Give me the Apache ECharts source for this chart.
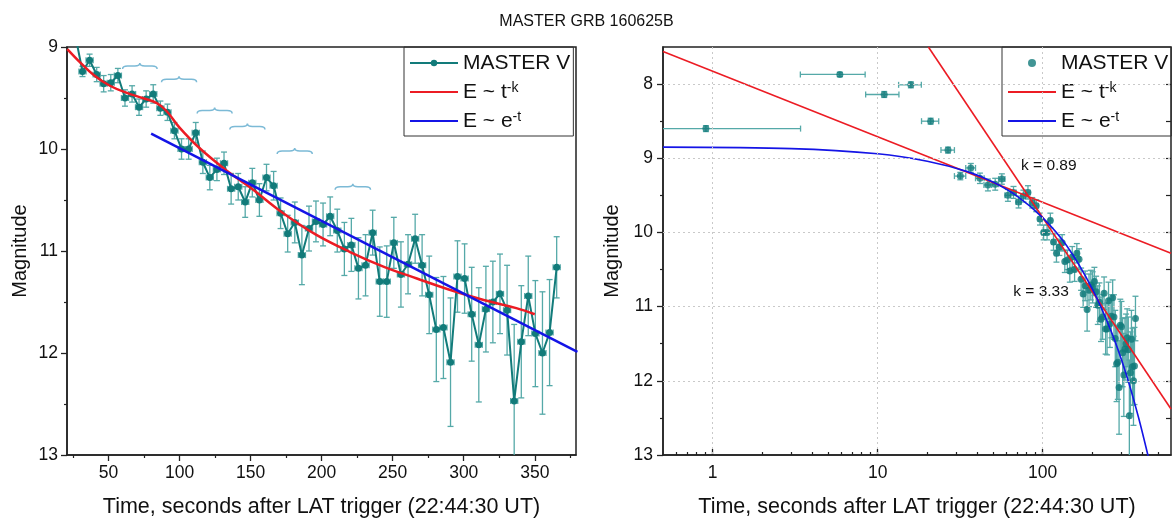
<!DOCTYPE html>
<html><head><meta charset="utf-8">
<script src="https://cdn.jsdelivr.net/npm/echarts@6/dist/echarts.min.js"></script>
<style>html,body{margin:0;padding:0;background:#fff}#c{width:1173px;height:523px}</style>
</head><body><div id="c"></div>
<script>
// ---- data ----
const timeSec = [26.7,31.7,36.7,41.7,46.6,51.6,56.6,61.6,66.6,71.5,76.5,81.5,86.5,91.5,96.4,101.4,106.4,111.4,116.4,121.3,126.3,131.3,136.3,141.3,146.2,151.2,156.2,161.2,166.2,171.1,176.1,181.1,186.1,191.1,196.0,201.0,206.0,211.0,216.0,220.9,225.9,230.9,235.9,240.9,245.8,250.8,255.8,260.8,265.8,270.7,275.7,280.7,285.7,290.7,295.6,300.6,305.6,310.6,315.6,320.5,325.5,330.5,335.5,340.5,345.4,350.4,355.4,360.4,365.4];
const magV = [8.89,9.24,9.13,9.27,9.36,9.35,9.28,9.50,9.46,9.59,9.51,9.46,9.60,9.64,9.82,10.00,10.00,9.84,10.13,10.28,10.20,10.14,10.39,10.37,10.52,10.33,10.50,10.28,10.36,10.63,10.83,10.72,11.04,10.78,10.71,10.74,10.66,10.80,10.98,10.94,11.17,11.14,10.82,11.30,11.30,10.92,11.23,11.13,10.88,11.14,11.43,11.77,11.75,12.09,11.25,11.27,11.62,11.92,11.57,11.50,11.42,11.58,12.47,11.89,11.44,11.81,12.00,11.80,11.16];
const magErr = [0.04,0.05,0.06,0.07,0.08,0.08,0.07,0.08,0.08,0.08,0.08,0.09,0.07,0.08,0.08,0.10,0.10,0.10,0.11,0.12,0.11,0.11,0.15,0.13,0.15,0.14,0.16,0.13,0.14,0.15,0.18,0.20,0.29,0.22,0.20,0.21,0.19,0.21,0.26,0.26,0.30,0.30,0.22,0.34,0.35,0.25,0.32,0.29,0.24,0.30,0.38,0.51,0.50,0.63,0.35,0.34,0.46,0.56,0.42,0.40,0.39,0.44,0.75,0.55,0.39,0.52,0.60,0.52,0.30];
const earlyTime = [0.91,5.9,10.96,15.9,20.95];
const earlyMag = [8.60,7.87,8.14,8.01,8.50];
const earlyErr = [0.04,0.03,0.04,0.04,0.04];
const timeErr = 2.5;

const powerFitLeft = [[21,9.02],[30,9.15],[40,9.28],[51,9.38],[63,9.45],[74,9.50],[84,9.55],[91,9.63],[100,9.79],[114,9.99],[133,10.21],[150,10.38],[173,10.63],[196,10.84],[220,11.01],[243,11.15],[267,11.27],[290,11.38],[314,11.48],[337,11.56],[350,11.62]];
const expFitLeft = [[80,9.85],[380,11.99]];
const powerFitRightA = [[0.5,7.56],[600,10.28]];
const powerFitRightB = [[20.3,7.5],[600,12.38]];
const expFitRight = [[0.5,8.85],[3,8.87],[10,8.94],[20,9.04],[35,9.18],[50,9.32],[70,9.51],[100,9.80],[140,10.18],[200,10.76],[260,11.33],[320,11.90],[380,12.48],[440,13.05]];
const braces = [[59.9,84.2,9.156],[87.3,112.0,9.286],[112.4,137.0,9.594],[135.4,160.1,9.75],[168.7,193.4,9.99],[209.5,234.4,10.34]];
const notes = [[109,9.10,'k = 0.89'],[97.8,10.80,'k = 3.33']];

const leftXTicks = [50,100,150,200,250,300,350];
const leftXMinor = [25,75,125,175,225,275,325,375];
const rightXTicks = [1,10,100];
const rightXMinor = [0.6,0.7,0.8,0.9,2,3,4,5,6,7,8,9,20,30,40,50,60,70,80,90,200,300,400,500];
const rightYTicks = [8,9,10,11,12,13];
const rightYMinor = [8.5,9.5,10.5,11.5,12.5];
const rightYRight = [8,8.5,9,9.5,10,10.5,11,11.5,12,12.5];

// ---- build ----
const FONT = 'Liberation Sans, Arial, sans-serif';
const TEAL = '#127b7a', ERRC = '#55a9a8';
const mainPts = timeSec.map((t,i)=>[t, magV[i], magErr[i], timeErr]);
const rightPts = earlyTime.map((t,i)=>[t, earlyMag[i], earlyErr[i], timeErr]).concat(mainPts);

function errRender(params, api){
  const x = api.value(0), y = api.value(1), ye = api.value(2), xe = api.value(3);
  const c = api.coord([x,y]);
  const top = api.coord([x, y-ye]), bot = api.coord([x, y+ye]);
  const left = (x-xe) > 0 ? api.coord([x-xe, y]) : [params.coordSys.x - 30, c[1]];
  const right = api.coord([x+xe, y]);
  const cap = 3;
  const st = {stroke: ERRC, lineWidth: 1.3, fill: null};
  const L = (x1,y1,x2,y2)=>({type:'line', shape:{x1,y1,x2,y2}, style:st});
  return {type:'group', children:[
    L(c[0],top[1],c[0],bot[1]), L(c[0]-cap,top[1],c[0]+cap,top[1]), L(c[0]-cap,bot[1],c[0]+cap,bot[1]),
    L(left[0],c[1],right[0],c[1]), L(left[0],c[1]-cap,left[0],c[1]+cap), L(right[0],c[1]-cap,right[0],c[1]+cap)
  ]};
}
function braceRender(params, api){
  const a = api.coord([api.value(0), api.value(2)]);
  const b = api.coord([api.value(1), api.value(2)]);
  const xl=a[0], xr=b[0], yt=a[1], xm=(xl+xr)/2, ym=yt+3, yb=yt+6;
  const d = `M${xl} ${yb} Q${xl} ${ym} ${xl+5} ${ym} L${xm-5} ${ym} Q${xm} ${ym} ${xm} ${yt} Q${xm} ${ym} ${xm+5} ${ym} L${xr-5} ${ym} Q${xr} ${ym} ${xr} ${yb}`;
  return {type:'path', shape:{pathData:d}, style:{stroke:'#7cbad6', lineWidth:1.5, fill:null}};
}
function noteRender(params, api){
  const p = api.coord([api.value(0), api.value(1)]);
  return {type:'text', x:p[0], y:p[1], style:{text: notes[params.dataIndex][2], font:'15.5px '+FONT, fill:'#111', align:'center', verticalAlign:'middle'}};
}
const legendNames = {'MASTER V':'MASTER V','fitPow':'E ~ t{sup|-k}','fitExp':'E ~ e{sup|-t}'};
const legendBase = {
  orient:'vertical', top:47, itemWidth:48, itemHeight:8, itemGap:7, padding:[5,3,4,5],
  borderColor:'#333', borderWidth:1, selectedMode:false,
  formatter: n => legendNames[n.replace('R:','')],
  textStyle:{fontSize:21, fontFamily:FONT, color:'#111', lineHeight:22,
    rich:{sup:{fontSize:14, fontFamily:FONT, color:'#111', verticalAlign:'top', lineHeight:13}}}
};
const noSym = {itemStyle:{opacity:0}};
const axLabel = {fontSize:17.5, fontFamily:FONT, color:'#111'};
const xNameStyle = {fontSize:21.5, fontFamily:FONT, color:'#111'};
const yNameStyle = {fontSize:20, fontFamily:FONT, color:'#111'};
const lineC = {lineStyle:{color:'#222', width:1.5}};

const option = {
  animation:false,
  title:{text:'MASTER GRB 160625B', left:'center', top:9, textStyle:{fontSize:16, fontWeight:'normal', fontFamily:FONT, color:'#111'}},
  legend:[
    Object.assign({}, legendBase, {left:404, data:['MASTER V', Object.assign({name:'fitPow'},noSym), Object.assign({name:'fitExp'},noSym)]}),
    Object.assign({}, legendBase, {left:1002, data:['R:MASTER V', Object.assign({name:'R:fitPow'},noSym), Object.assign({name:'R:fitExp'},noSym)]})
  ],
  grid:[
    {left:67, top:47, width:509, height:411, show:true, borderColor:'#222', borderWidth:1.5, containLabel:false},
    {left:663, top:47, width:508, height:411, show:true, borderColor:'#222', borderWidth:1.5, containLabel:false}
  ],
  xAxis:[
    {gridIndex:0, type:'value', min:20.8, max:379, position:'bottom', axisLine:Object.assign({show:true},lineC),
     axisTick:{show:true, length:6, customValues:leftXTicks, lineStyle:{color:'#222',width:1.3}},
     axisLabel:Object.assign({customValues:leftXTicks, margin:9}, axLabel), splitLine:{show:false},
     name:'Time, seconds after LAT trigger (22:44:30 UT)', nameLocation:'middle', nameGap:41, nameTextStyle:xNameStyle},
    {gridIndex:0, type:'value', min:20.8, max:379, position:'bottom', axisLine:{show:false},
     axisTick:{show:true, length:3, customValues:leftXMinor, lineStyle:{color:'#222',width:1.2}},
     axisLabel:{show:false}, splitLine:{show:false}},
    {gridIndex:1, type:'log', logBase:10, min:0.5, max:600, position:'bottom', axisLine:Object.assign({show:true},lineC),
     axisTick:{show:true, inside:true, length:6, customValues:rightXTicks, lineStyle:{color:'#222',width:1.3}},
     axisLabel:Object.assign({customValues:rightXTicks, margin:9}, axLabel), splitLine:{show:false},
     name:'Time, seconds after LAT trigger (22:44:30 UT)', nameLocation:'middle', nameGap:41, nameTextStyle:xNameStyle},
    {gridIndex:1, type:'log', logBase:10, min:0.5, max:600, position:'bottom', axisLine:{show:false},
     axisTick:{show:true, inside:true, length:3, customValues:rightXMinor, lineStyle:{color:'#222',width:1.2}},
     axisLabel:{show:false}, splitLine:{show:false}}
  ],
  yAxis:[
    {gridIndex:0, type:'value', inverse:true, min:9, max:13, interval:1, position:'left', axisLine:Object.assign({show:true},lineC),
     axisTick:{show:true, length:6, lineStyle:{color:'#222',width:1.3}},
     minorTick:{show:true, splitNumber:2, length:3, lineStyle:{color:'#222',width:1.2}},
     axisLabel:Object.assign({margin:9}, axLabel), splitLine:{show:false},
     name:'Magnitude', nameLocation:'middle', nameGap:37, nameTextStyle:yNameStyle},
    {gridIndex:1, type:'value', inverse:true, min:7.5, max:13, position:'left', axisLine:Object.assign({show:true},lineC),
     axisTick:{show:true, length:6, customValues:rightYTicks, lineStyle:{color:'#222',width:1.3}},
     axisLabel:Object.assign({customValues:rightYTicks, margin:10}, axLabel), splitLine:{show:false},
     name:'Magnitude', nameLocation:'middle', nameGap:41, nameTextStyle:yNameStyle},
    {gridIndex:1, type:'value', inverse:true, min:7.5, max:13, position:'left', axisLine:{show:false},
     axisTick:{show:true, length:3, customValues:rightYMinor, lineStyle:{color:'#222',width:1.2}},
     axisLabel:{show:false}, splitLine:{show:false}},
    {gridIndex:1, type:'value', inverse:true, min:7.5, max:13, position:'right', axisLine:{show:false},
     axisTick:{show:true, inside:true, length:5, customValues:rightYRight, lineStyle:{color:'#222',width:1.2}},
     axisLabel:{show:false}, splitLine:{show:false}}
  ],
  series:[
    {name:'gridR', type:'line', xAxisIndex:2, yAxisIndex:1, data:[[1,8]], showSymbol:false, lineStyle:{opacity:0}, z:1, silent:true,
     markLine:{silent:true, symbol:['none','none'], label:{show:false}, animation:false,
       lineStyle:{color:'#c9c9c9', type:[2,3], width:1},
       data: rightXTicks.map(v=>({xAxis:v})).concat(rightYTicks.slice(0,5).map(v=>({yAxis:v})))}},
    {name:'errL', type:'custom', xAxisIndex:0, yAxisIndex:0, data:mainPts, renderItem:errRender, clip:true, z:2, silent:true},
    {name:'MASTER V', type:'line', xAxisIndex:0, yAxisIndex:0, data:mainPts.map(p=>[p[0],p[1]]), symbol:'circle', symbolSize:7,
     itemStyle:{color:TEAL}, lineStyle:{color:TEAL, width:2}, clip:true, z:3},
    {name:'fitPow', type:'line', xAxisIndex:0, yAxisIndex:0, data:powerFitLeft, smooth:0.4, showSymbol:false, symbol:'none',
     lineStyle:{color:'#ec1c24', width:2.5}, itemStyle:{color:'#ec1c24'}, clip:true, z:4},
    {name:'fitExp', type:'line', xAxisIndex:0, yAxisIndex:0, data:expFitLeft, showSymbol:false, symbol:'none',
     lineStyle:{color:'#1414e6', width:2.5}, itemStyle:{color:'#1414e6'}, clip:true, z:4},
    {name:'bracesL', type:'custom', xAxisIndex:0, yAxisIndex:0, data:braces, renderItem:braceRender, z:3, silent:true},
    {name:'errR', type:'custom', xAxisIndex:2, yAxisIndex:1, data:rightPts, renderItem:errRender, clip:true, z:2, silent:true},
    {name:'R:MASTER V', type:'scatter', xAxisIndex:2, yAxisIndex:1, data:rightPts.map(p=>[p[0],p[1]]), symbol:'circle', symbolSize:7,
     itemStyle:{color:TEAL}, clip:true, z:3},
    {name:'R:fitPow', type:'line', xAxisIndex:2, yAxisIndex:1, data:powerFitRightA, showSymbol:false, symbol:'none',
     lineStyle:{color:'#ec1c24', width:1.6}, itemStyle:{color:'#ec1c24'}, clip:true, z:4},
    {name:'R:fitPow', type:'line', xAxisIndex:2, yAxisIndex:1, data:powerFitRightB, showSymbol:false, symbol:'none',
     lineStyle:{color:'#ec1c24', width:1.6}, itemStyle:{color:'#ec1c24'}, clip:true, z:4},
    {name:'R:fitExp', type:'line', xAxisIndex:2, yAxisIndex:1, data:expFitRight, smooth:0.3, showSymbol:false, symbol:'none',
     lineStyle:{color:'#1414e6', width:1.6}, itemStyle:{color:'#1414e6'}, clip:true, z:4},
    {name:'notes', type:'custom', xAxisIndex:2, yAxisIndex:1, data:notes.map(n=>[n[0],n[1]]), renderItem:noteRender, z:5, silent:true}
  ]
};
const chart = echarts.init(document.getElementById('c'), null, {renderer:'canvas'});
chart.setOption(option);
</script></body></html>
